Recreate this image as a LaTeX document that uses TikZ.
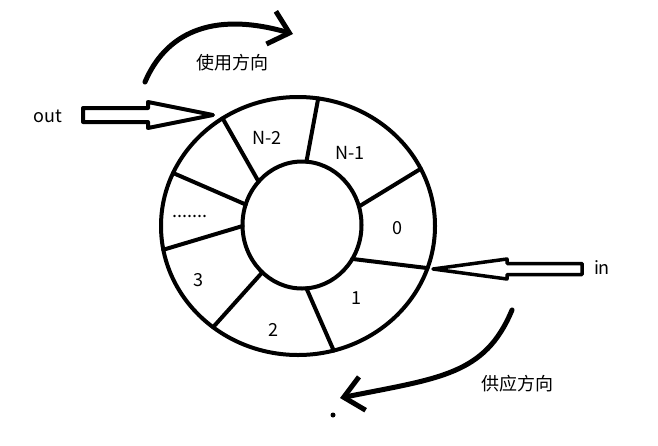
\documentclass[tikz,border=0pt]{standalone}
\usepackage{fontspec}
\setmainfont{Noto Sans CJK SC}
\usetikzlibrary{shapes.geometric,arrows.meta,positioning}

\begin{document}
\begin{tikzpicture}[
    x=1pt, y=-1pt,
    every node/.style={font=\fontsize{18}{20}\selectfont, inner sep=1pt, text=black},
    ring/.style={draw, ellipse, line width=4pt, inner sep=0pt, outer sep=0pt},
    spoke/.style={line width=4pt, line cap=round},
    hollow/.style={draw, line width=4pt, line join=round, line cap=round},
    flow/.style={line width=5pt, line cap=round, -{Straight Barb[length=19pt, width=34pt]}}
]
\useasboundingbox (0,0) rectangle (658,445);

% 环形缓冲区
\node[ring, minimum width=274pt, minimum height=258pt] (outer) at (298,226) {};
\node[ring, minimum width=119pt, minimum height=127pt] (inner) at (302,225) {};

% 分隔线
\foreach \a/\b in {86.5/81.7, 18.7/25.4, 326/342.1, 274.5/286, 230/230.9, 181/190, 160/157, 135/125.6}
    \draw[spoke] (inner.\a) -- (outer.\b);

% 槽位编号
\node (sN2) at (267,138) {N-2};
\node (sN1) at (350,153) {N-1};
\node (s0)  at (397,228) {0};
\node (s1)  at (356,298) {1};
\node (s2)  at (273,330) {2};
\node (s3)  at (198,280) {3};
\node (sdot) at (190,216) {.......};

% 出口 out
\node (outlbl) at (48,116) {out};
\coordinate (outtip) at (213,115);
\draw[hollow] (outtip) -- ++(-65,-13) -- ++(0,6) -- ++(-65,0) -- ++(0,14)
    -- ++(65,0) -- ++(0,6) -- cycle;

% 入口 in
\node (inlbl) at (602,268) {in};
\coordinate (intip) at (433,269);
\draw[hollow, line width=3.5pt] (intip) -- ++(74,-10) -- ++(0,4.5) -- ++(75,0) -- ++(0,11)
    -- ++(-75,0) -- ++(0,4.5) -- cycle;

% 使用方向
\coordinate (useA) at (145,82);
\coordinate (useB) at (293,34);
\draw[flow] (useA) .. controls (165,35) and (210,10) .. (useB);
\node (uselbl) at (232,63) {使用方向};

% 供应方向
\coordinate (supA) at (512,310);
\coordinate (supB) at (340,398);
\draw[flow] (supA) .. controls (485,375) and (440,378) .. (supB);
\node (suplbl) at (517,384) {供应方向};
\fill (333,415) circle (2.5pt);

\end{tikzpicture}
\end{document}
